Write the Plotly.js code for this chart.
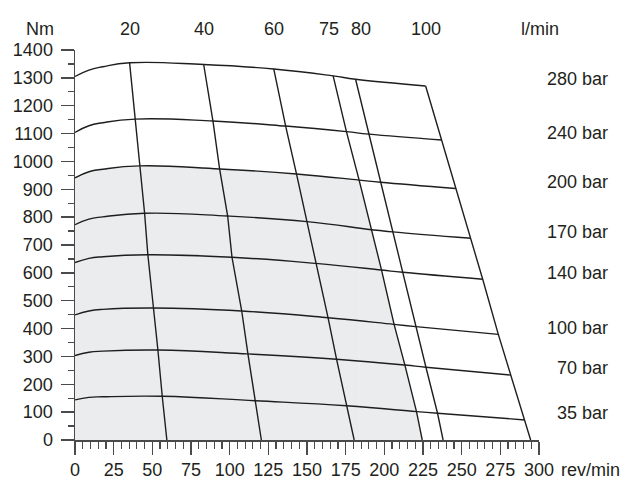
<!DOCTYPE html>
<html>
<head>
<meta charset="utf-8">
<script src="https://cdn.plot.ly/plotly-3.0.1.min.js"></script>
<style>
html,body{margin:0;padding:0;background:#fff;}
#chart{width:631px;height:480px;}
</style>
</head>
<body>
<div id="chart"></div>
<script>
// Pressure labels
const pressureLabels = ['280 bar','240 bar','200 bar','170 bar','140 bar','100 bar','70 bar','35 bar'];
// Flow labels (l/min)
const flowLabels = ['20','40','60','75','80','100'];
// Torque curves: speed (rev/min) and torque (Nm). Points 3..8 are the crossings with the flow lines.
const rpm280 = [0, 9, 18, 35.3, 83.2, 128.5, 166.9, 181.4, 226.7];
const nm280  = [1305, 1328, 1340, 1354, 1348, 1332, 1307, 1295, 1271];
const rpm240 = [0, 9, 18, 39.0, 89.2, 136.2, 175.5, 190.0, 237.0];
const nm240  = [1104, 1128, 1139, 1152, 1145, 1127, 1107, 1098, 1077];
const rpm200 = [0, 9, 18, 41.7, 93.5, 143.2, 183.7, 197.5, 246.1];
const nm200  = [941, 963, 972, 984, 973, 955, 933, 925, 903];
const rpm170 = [0, 9, 18, 45.0, 98.7, 150.0, 191.7, 205.3, 256.0];
const nm170  = [773, 793, 801, 814, 804, 784, 755, 747, 724];
const rpm140 = [0, 9, 18, 47.1, 101.5, 155.5, 198.2, 211.8, 263.6];
const nm140  = [637, 652, 658, 665, 656, 634, 610, 602, 577];
const rpm100 = [0, 9, 18, 50.8, 107.8, 163.6, 206.3, 220.4, 273.7];
const nm100  = [449, 463, 469, 474, 463, 439, 415, 407, 379];
const rpm70  = [0, 9, 18, 53.6, 111.8, 169.1, 213.3, 226.9, 281.7];
const nm70   = [303, 315, 319, 323, 309, 290, 269, 261, 233];
const rpm35  = [0, 9, 18, 56.4, 116.6, 175.5, 220.8, 234.4, 290.9];
const nm35   = [144, 153, 155, 157, 141, 123, 102, 96, 72];
// Speed at zero torque for each flow line
const rpmZero = [59.4, 120.5, 180.5, 224.5, 238.0, 294.6];

const curvesRpm = [rpm280, rpm240, rpm200, rpm170, rpm140, rpm100, rpm70, rpm35];
const curvesNm  = [nm280, nm240, nm200, nm170, nm140, nm100, nm70, nm35];
const FIRST = 3; // index of first flow crossing
const SHADE_CURVE = 2;  // 200 bar
const SHADE_FLOW = 3;   // 75 l/min

const lineColor = '#1e1e1e';
const textColor = '#231f20';
const fillColor = '#ebeced';
const axisColor = '#4a4a4a';
const font = 'Liberation Sans, Arial, Helvetica, sans-serif';
const fs = 18;
const SMOOTH = 1.3;

const traces = [];
// Shaded area: under 200 bar curve up to 75 l/min line
const shadeIdx = FIRST + SHADE_FLOW;
traces.push({
  x: curvesRpm[SHADE_CURVE].slice(0, shadeIdx + 1),
  y: curvesNm[SHADE_CURVE].slice(0, shadeIdx + 1),
  mode: 'lines', line: {width: 0, shape: 'spline', smoothing: SMOOTH, color: fillColor},
  fill: 'tozeroy', fillcolor: fillColor, hoverinfo: 'skip'
});
const shX = [], shY = [];
for (let k = SHADE_CURVE; k < curvesRpm.length; k++) { shX.push(curvesRpm[k][shadeIdx]); shY.push(curvesNm[k][shadeIdx]); }
shX.push(rpmZero[SHADE_FLOW]); shY.push(0);
traces.push({x: shX, y: shY, mode: 'lines', line: {width: 0, color: fillColor}, fill: 'tozeroy', fillcolor: fillColor, hoverinfo: 'skip'});

// Torque curves
for (let k = 0; k < curvesRpm.length; k++) {
  traces.push({x: curvesRpm[k], y: curvesNm[k], mode: 'lines',
    line: {color: lineColor, width: 1.4, shape: 'spline', smoothing: SMOOTH}, hoverinfo: 'skip'});
}
// Flow lines
for (let j = 0; j < flowLabels.length; j++) {
  const fx = [], fy = [];
  for (let k = 0; k < curvesRpm.length; k++) { fx.push(curvesRpm[k][FIRST + j]); fy.push(curvesNm[k][FIRST + j]); }
  fx.push(rpmZero[j]); fy.push(0);
  traces.push({x: fx, y: fy, mode: 'lines', line: {color: lineColor, width: 1.4}, hoverinfo: 'skip'});
}

const annotations = [];
const flowShift = [0, 0, 0, -4, 5, 0];
for (let j = 0; j < flowLabels.length; j++) {
  annotations.push({text: flowLabels[j], x: rpm280[FIRST + j], xref: 'x', y: 1.054, yref: 'paper',
    xanchor: 'center', yanchor: 'middle', showarrow: false, xshift: flowShift[j]});
}
for (let k = 0; k < pressureLabels.length; k++) {
  const last = curvesNm[k][curvesNm[k].length - 1];
  annotations.push({text: pressureLabels[k], x: 1.152, xref: 'paper', y: last + 24, yref: 'y',
    xanchor: 'right', yanchor: 'middle', showarrow: false});
}
annotations.push({text: 'Nm', x: -0.0755, xref: 'paper', y: 1.054, yref: 'paper', xanchor: 'center', yanchor: 'middle', showarrow: false});
annotations.push({text: 'l/min', x: 1.002, xref: 'paper', y: 1.054, yref: 'paper', xanchor: 'center', yanchor: 'middle', showarrow: false});
annotations.push({text: 'rev/min', x: 1.11, xref: 'paper', y: -0.077, yref: 'paper', xanchor: 'center', yanchor: 'middle', showarrow: false});

const layout = {
  width: 631, height: 480,
  margin: {l: 75, r: 92, t: 50, b: 40},
  paper_bgcolor: '#fff', plot_bgcolor: 'rgba(0,0,0,0)',
  showlegend: false,
  font: {family: font, size: fs, color: textColor},
  xaxis: {range: [0, 300], tick0: 0, dtick: 25, showgrid: false, zeroline: false,
    showline: true, linecolor: axisColor, linewidth: 1.5,
    ticks: 'outside', ticklen: 13, tickwidth: 1.5, tickcolor: axisColor,
    minor: {ticks: 'outside', dtick: 5, tick0: 0, ticklen: 7, tickwidth: 1.2, tickcolor: axisColor, showgrid: false},
    tickfont: {family: font, size: fs, color: textColor}, fixedrange: true},
  yaxis: {range: [0, 1400], tick0: 0, dtick: 100, showgrid: false, zeroline: false,
    showline: true, linecolor: axisColor, linewidth: 1.5,
    ticks: 'outside', ticklen: 13, tickwidth: 1.5, tickcolor: axisColor, ticklabelstandoff: 4,
    minor: {ticks: 'outside', dtick: 50, tick0: 0, ticklen: 6, tickwidth: 1.2, tickcolor: axisColor, showgrid: false},
    tickfont: {family: font, size: fs, color: textColor}, fixedrange: true},
  annotations: annotations,
  hovermode: false
};

Plotly.newPlot('chart', traces, layout, {staticPlot: true, displayModeBar: false});
</script>
</body>
</html>
